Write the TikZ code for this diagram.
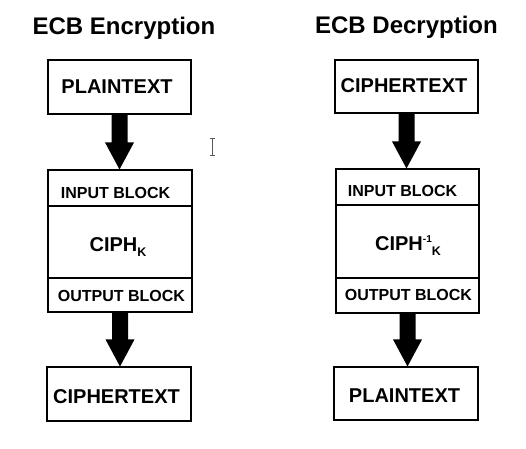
\documentclass[tikz,border=0pt]{standalone}
\usepackage{fontspec}
\setmainfont{Liberation Sans}
\usetikzlibrary{calc}
\tikzset{
  box/.style={draw, line width=1.1pt, inner sep=0pt, rectangle},
  lbl/.style={anchor=base, inner sep=0pt, font=\fontsize{20}{20}\selectfont\bfseries},
  small/.style={anchor=base, inner sep=0pt, font=\fontsize{16}{16}\selectfont\bfseries},
  ttl/.style={anchor=base, inner sep=0pt, font=\fontsize{24}{24}\selectfont\bfseries},
  dividerline/.style={line width=1.1pt},
}
\newcommand{\bigarrow}[2]{%
  \fill (#1.south) ++(-8,0) -- ++(16,0) -- ($(#1.south |- #2.north)+(8,-27)$)
    -- ($(#1.south |- #2.north)+(14.5,-27)$) -- (#1.south |- #2.north)
    -- ($(#1.south |- #2.north)+(-14.5,-27)$) -- ($(#1.south |- #2.north)+(-8,-27)$) -- cycle;}
\begin{document}
\begin{tikzpicture}[x=1pt,y=-1pt]
\useasboundingbox[fill=white] (0,0) rectangle (526,448);
% Encryption
\node[ttl] (t1) at (124,34) {ECB Encryption};
\node[box, minimum width=143pt, minimum height=54pt] (pL) at (119.5,87) {};
\node[lbl] (pLt) at (117,93) {PLAINTEXT};
\node[box, minimum width=144pt, minimum height=142pt] (mL) at (120,241) {};
\draw[dividerline] (mL.west |- 0,206) coordinate (d1a) -- (mL.east |- d1a);
\draw[dividerline] (mL.west |- 0,278) coordinate (d2a) -- (mL.east |- d2a);
\node[small] (iL) at (115.5,198.5) {INPUT BLOCK};
\node[lbl] (kL) at (118,251) {CIPH\raisebox{-5pt}{\fontsize{12.5}{12.5}\selectfont K}};
\node[small] (oL) at (121.5,301) {OUTPUT BLOCK};
\node[box, minimum width=144pt, minimum height=54pt] (cL) at (119,394) {};
\node[lbl] (cLt) at (116.5,403) {CIPHERTEXT};
% Decryption
\node[ttl] (t2) at (406.5,33.5) {ECB Decryption};
\node[box, minimum width=143pt, minimum height=53pt] (cR) at (406.5,86.5) {};
\node[lbl] (cRt) at (404,92.7) {CIPHERTEXT};
\node[box, minimum width=143pt, minimum height=144pt] (mR) at (407.5,241) {};
\draw[dividerline] (mR.west |- 0,205) coordinate (d1b) -- (mR.east |- d1b);
\draw[dividerline] (mR.west |- 0,278) coordinate (d2b) -- (mR.east |- d2b);
\node[small] (iR) at (402.5,196.7) {INPUT BLOCK};
\node[lbl] (kR) at (408,250.7) {CIPH\raisebox{8pt}{\fontsize{10}{10}\selectfont -1}\raisebox{-5pt}{\fontsize{12.5}{12.5}\selectfont K}};
\node[small] (oR) at (408.5,300.7) {OUTPUT BLOCK};
\node[box, minimum width=144pt, minimum height=53pt] (pR) at (406,393.5) {};
\node[lbl] (pRt) at (404.5,402) {PLAINTEXT};
% arrows
\bigarrow{pL}{mL}
\bigarrow{mL}{cL}
\bigarrow{cR}{mR}
\bigarrow{mR}{pR}
% text cursor
\coordinate (cur) at (212.5,147);
\draw[gray!70!black, line width=0.8pt] ($(cur)+(0,-8)$) -- ($(cur)+(0,8)$)
  ($(cur)+(-2.2,-8.5)$) -- ($(cur)+(2.2,-8.5)$)
  ($(cur)+(-2.2,8.5)$) -- ($(cur)+(2.2,8.5)$);
\end{tikzpicture}
\end{document}
